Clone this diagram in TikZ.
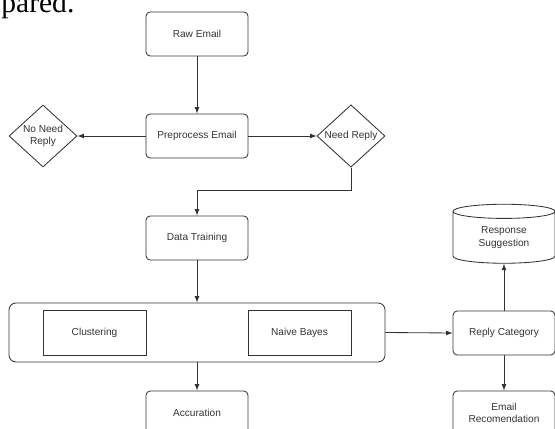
\documentclass[tikz,border=0pt]{standalone}
\usepackage{fontspec}
\setmainfont{Liberation Serif}
\setsansfont{Liberation Sans}
\usepackage{tikz}
\usetikzlibrary{arrows,calc,shapes.geometric}

\begin{document}
\begin{tikzpicture}[x=0.025cm, y=-0.025cm, line width=0.6pt]
	\path [use as bounding box] (0,0) rectangle (555,429);
	\tikzstyle{every node} = [font=\sffamily\fontsize{7.2}{9}\selectfont, text=black!80, draw=black!80, align=center]
	\tikzstyle{proc} = [rectangle, rounded corners=3pt, minimum width=2.55cm, minimum height=1.1cm, inner sep=0pt]
	\tikzstyle{choice} = [diamond, minimum width=1.7cm, minimum height=1.45cm, inner sep=0pt]
	\tikzstyle{algo} = [rectangle, minimum width=2.575cm, minimum height=1.125cm, inner sep=0pt]
	\tikzstyle{flow} = [draw=black!80, -latex]
	\node [draw=none, text=black, font=\rmfamily\fontsize{21}{24}\selectfont, anchor=base west, inner sep=0pt] (cap) at (1,12) {pared.};
	\node [proc] (raw) at (197,34) {Raw Email};
	\node [proc] (prep) at (197,136) {Preprocess Email};
	\node [choice] (noneed) at (43,136) {No Need\\Reply};
	\node [choice] (need) at (351,136) {Need Reply};
	\node [proc] (train) at (197,238) {Data Training};
	\node [rectangle, rounded corners=5pt, minimum width=9.4cm, minimum height=1.475cm] (model) at (197,332.5) {};
	\node [algo] (clus) at (94.5,332.5) {Clustering};
	\node [algo] (bayes) at (299.5,332.5) {Naive Bayes};
	\node [proc] (acc) at (197,413) {Accuration};
	\node [proc] (cat) at (504,333) {Reply Category};
	\node [cylinder, shape border rotate=90, aspect=0.28, minimum width=2.55cm, minimum height=1.475cm, inner sep=0pt] (resp) at (504,237.5) {Response\\Suggestion};
	\node [proc] (recom) at (504,413) {Email\\Recomendation};
	\coordinate (turn) at (351,190);
	\draw [flow] (raw) -- (prep);
	\draw [flow] (prep) -- (noneed);
	\draw [flow] (prep) -- (need);
	\draw [flow] (need.south) -- (turn) -| (train.north);
	\draw [flow] (train) -- (model);
	\draw [flow] (model) -- (acc);
	\draw [flow] (model.east) -- (cat.west);
	\draw [flow] (cat) -- (resp);
	\draw [flow] (cat) -- (recom);
\end{tikzpicture}
\end{document}
